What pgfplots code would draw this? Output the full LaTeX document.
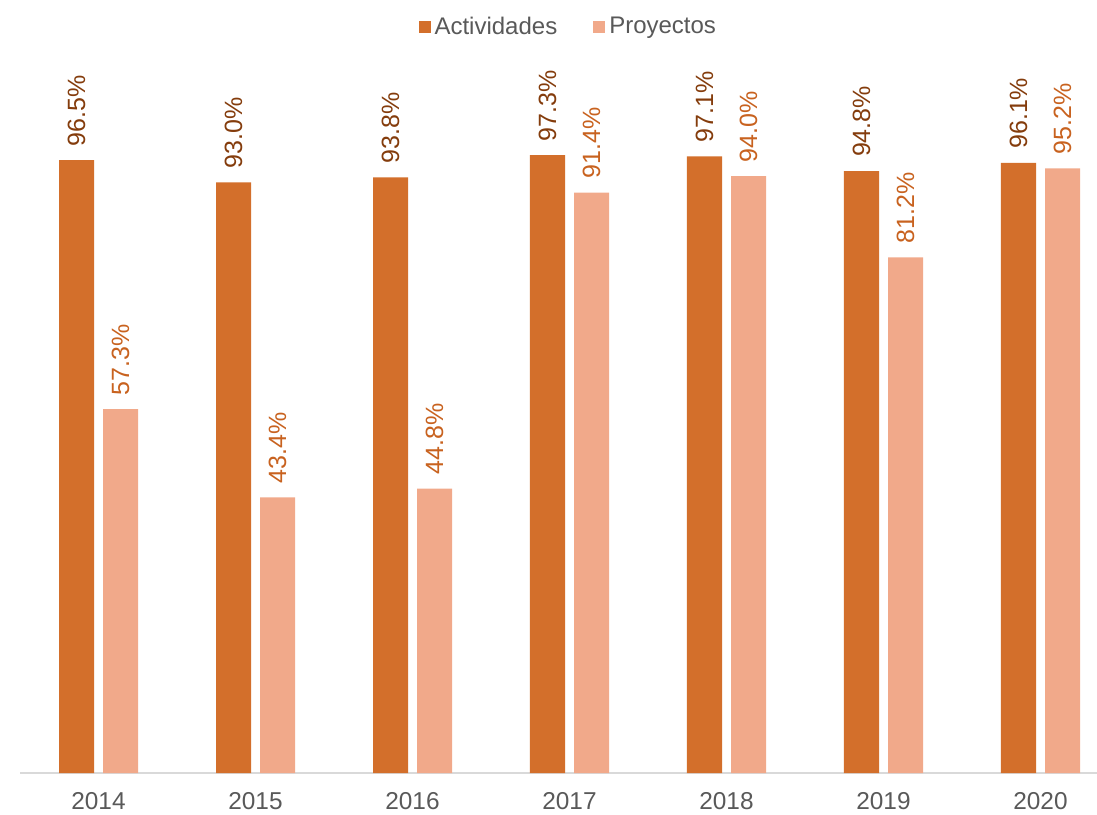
\documentclass[border=0pt]{standalone}
\usepackage{pgfplots}
\pgfplotsset{compat=1.18}
\usepackage{fontspec}
\setmainfont{Liberation Sans}

\definecolor{act}{HTML}{D36F2B}
\definecolor{pro}{HTML}{F1A98A}
\definecolor{actlbl}{HTML}{843C0C}
\definecolor{prolbl}{HTML}{C8621F}
\definecolor{txt}{HTML}{595959}
\definecolor{axln}{HTML}{D9D9D9}

\begin{document}
\begin{tikzpicture}
\useasboundingbox (-10pt,-20.5pt) rectangle (538.5pt,386.5pt);
\begin{axis}[
    at={(0,0)}, anchor=south west,
    scale only axis,
    width=538.5pt, height=317.5pt,
    xmin=-0.5, xmax=6.36,
    ymin=0, ymax=100,
    clip=false,
    axis x line*=bottom,
    axis y line=none,
    x axis line style={draw=axln, line width=1pt, -},
    xtick={0,...,6},
    xticklabels={2014,2015,2016,2017,2018,2019,2020},
    major tick length=0pt,
    ticklabel style={font=\fontsize{12.2}{15}\selectfont, text=txt},
    xticklabel style={yshift=-6pt},
    /pgf/number format/assume math mode=true,
    ybar,
    bar width=17.5pt,
    nodes near coords={\pgfmathprintnumber[fixed,zerofill,precision=1]{\pgfplotspointmeta}\%},
    every node near coord/.append style={rotate=90, anchor=west, font=\fontsize{12.5}{15}\selectfont, xshift=3.5pt},
    legend columns=2,
    legend style={draw=none, at={(0.51,1.175)}, anchor=center, font=\fontsize{12}{15}\selectfont, text=txt,
        /tikz/every even column/.append style={column sep=16pt}},
    legend image code/.code={\fill[#1] (1pt,-3pt) rectangle (7pt,3pt);},
]
\addplot[fill=act, draw=none, bar shift=-11pt,
    every node near coord/.append style={text=actlbl}] coordinates {
    (0,96.5) (1,93.0) (2,93.8) (3,97.3) (4,97.1) (5,94.8) (6,96.1)
};
\addlegendentry{Actividades}
\addplot[fill=pro, draw=none, bar shift=11pt,
    every node near coord/.append style={text=prolbl}] coordinates {
    (0,57.3) (1,43.4) (2,44.8) (3,91.4) (4,94.0) (5,81.2) (6,95.2)
};
\addlegendentry{Proyectos}
\end{axis}
\end{tikzpicture}
\end{document}
